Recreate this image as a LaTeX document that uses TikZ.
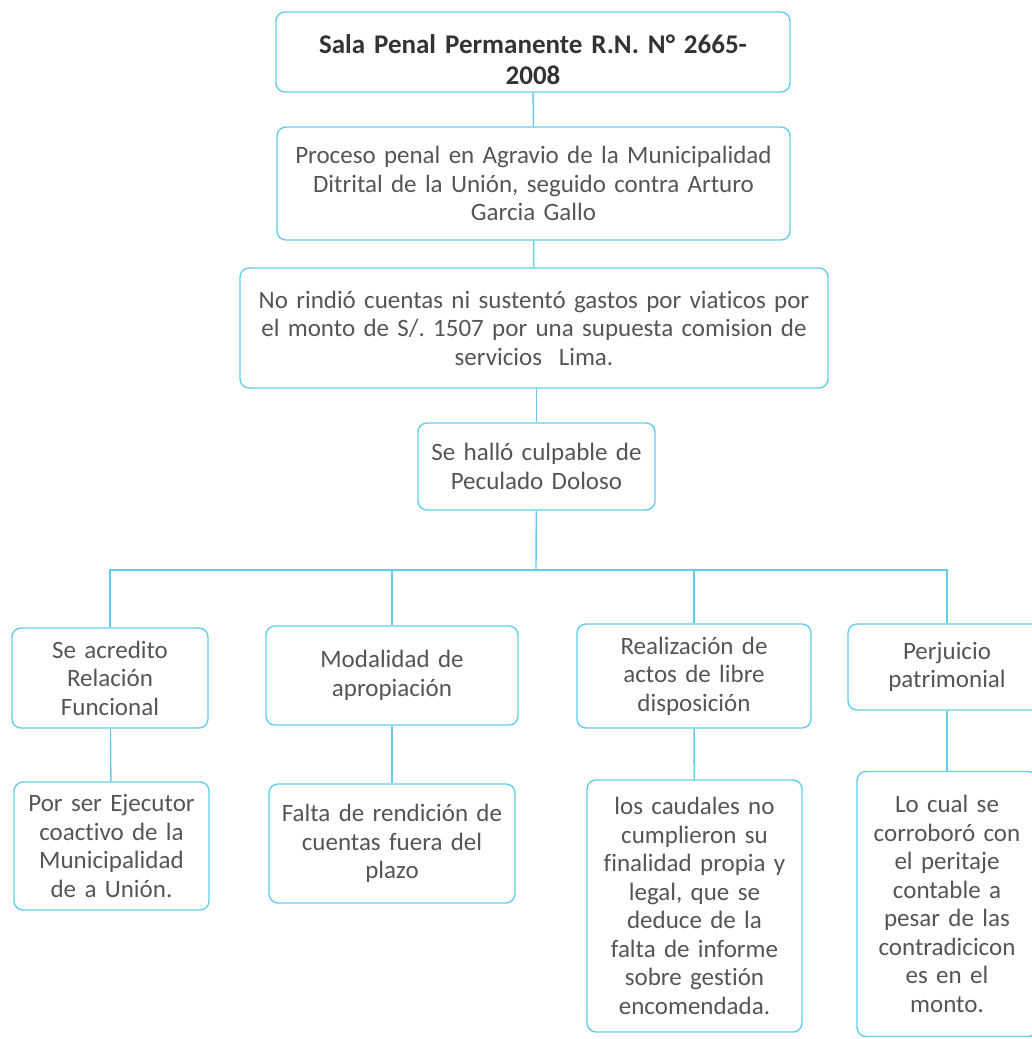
\documentclass[tikz,border=0pt]{standalone}
\usepackage{fontspec}
\setmainfont[Ligatures=NoCommon]{Carlito}
\usepackage{tikz}
\usetikzlibrary{positioning}

\definecolor{borde}{RGB}{100,205,235}
\definecolor{texto}{RGB}{85,85,85}

\begin{document}
\begin{tikzpicture}[x=1pt, y=-1pt,
    caja/.style={draw=borde, line width=1.4pt, rounded corners=9pt, align=center,
        inner sep=4pt, text=texto, font=\fontsize{25}{28.5}\selectfont},
    enlace/.style={draw=borde, line width=1.4pt}]

    \useasboundingbox (0,0) rectangle (1031,1039);

    % Cadena principal
    \node[caja, minimum width=514pt, minimum height=80pt, text width=500pt, text=black!80,
        font=\bfseries\fontsize{27}{30.5}\selectfont] (sala) at (533,52)
        {\rule{0pt}{34pt}Sala Penal Permanente R.N. N° 2665-\\2008};
    \node[caja, minimum width=513pt, minimum height=113pt, text width=505pt] (proceso) at (533.5,183.5)
        {Proceso penal en Agravio de la Municipalidad\\Ditrital de la Unión, seguido contra Arturo\\Garcia Gallo};
    \node[caja, minimum width=588pt, minimum height=120pt, text width=580pt] (cuentas) at (534,328)
        {No rindió cuentas ni sustentó gastos por viaticos por\\el monto de S/.\ 1507 por una supuesta comision de\\servicios\ \ Lima.};
    \node[caja, minimum width=237pt, minimum height=87pt, text width=228pt] (culpable) at (536.5,466.5)
        {Se halló culpable de\\Peculado Doloso};

    % Elementos del delito
    \node[caja, minimum width=196pt, minimum height=100pt, text width=188pt] (relacion) at (110,678)
        {Se acredito\\Relación\\Funcional};
    \node[caja, minimum width=252pt, minimum height=99pt, text width=244pt] (modalidad) at (392,675.5)
        {Modalidad de\\apropiación};
    \node[caja, minimum width=234pt, minimum height=104pt, text width=226pt] (actos) at (694,676)
        {Realización de\\actos de libre\\disposición};
    \node[caja, minimum width=198pt, minimum height=86pt, text width=190pt] (perjuicio) at (947,667)
        {Perjuicio\\patrimonial};

    % Sustento de cada elemento
    \node[caja, minimum width=195pt, minimum height=128pt, text width=187pt] (ejecutor) at (111.5,846)
        {Por ser Ejecutor\\coactivo de la\\Municipalidad\\de a Unión.};
    \node[caja, minimum width=246pt, minimum height=119pt, text width=238pt] (rendicion) at (392,843.5)
        {Falta de rendición de\\cuentas fuera del\\plazo};
    \node[caja, minimum width=215pt, minimum height=252pt, text width=207pt] (caudales) at (694.5,906)
        {los caudales no\\cumplieron su\\finalidad propia y\\legal, que se\\deduce de la\\falta de informe\\sobre gestión\\encomendada.};
    \node[caja, minimum width=180pt, minimum height=265pt, text width=172pt] (peritaje) at (947,904)
        {Lo cual se\\corroboró con\\el peritaje\\contable a\\pesar de las\\contradicicon\\es en el\\monto.};

    % Conectores
    \coordinate (bus) at (536,570);
    \draw[enlace] (sala) -- (proceso);
    \draw[enlace] (proceso) -- (cuentas);
    \draw[enlace] (cuentas.south -| culpable.north) -- (culpable);
    \draw[enlace] (culpable) -- (bus);
    \foreach \hijo in {relacion, modalidad, actos, perjuicio} {
        \draw[enlace] (bus) -| (\hijo.north);
    }
    \draw[enlace] (relacion) -- (ejecutor);
    \draw[enlace] (modalidad) -- (rendicion);
    \draw[enlace] (actos) -- (caudales);
    \draw[enlace] (perjuicio) -- (peritaje);
\end{tikzpicture}
\end{document}
